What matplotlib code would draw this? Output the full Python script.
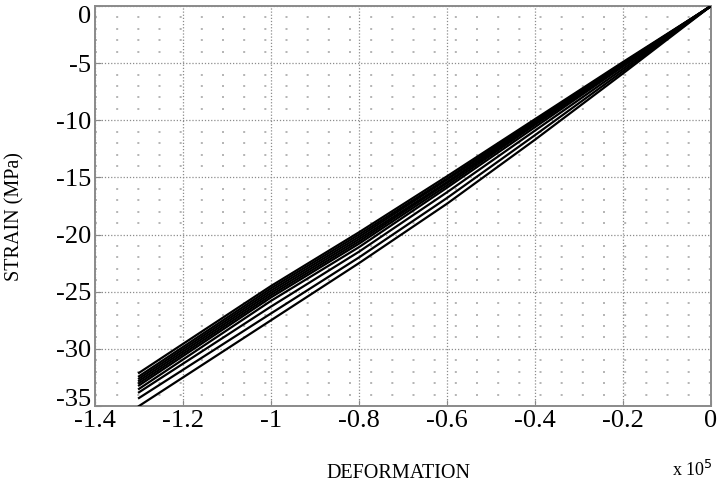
import numpy as np
import matplotlib
matplotlib.use('Agg')
from matplotlib import pyplot as plt
from matplotlib.ticker import MultipleLocator

plt.rcParams['font.family'] = ['Liberation Serif', 'DejaVu Serif']
plt.rcParams['axes.unicode_minus'] = False

# deformation values (raw units, shown as x 10^5)
deformation = [-130000, -100000, -80000, -60000, -40000, -20000, 0]

# strain (MPa) for each loading cycle, top of the bundle to bottom
strain_1 = [-32.1, -24.5, -19.8, -14.9, -9.9, -4.9, 0]
strain_2 = [-32.4, -24.7, -20.0, -15.1, -10.0, -5.0, 0]
strain_3 = [-32.6, -24.9, -20.2, -15.2, -10.1, -5.0, 0]
strain_4 = [-32.8, -25.1, -20.4, -15.4, -10.2, -5.1, 0]
strain_5 = [-33.0, -25.3, -20.6, -15.5, -10.3, -5.1, 0]
strain_6 = [-33.2, -25.5, -20.8, -15.7, -10.4, -5.2, 0]
strain_7 = [-33.5, -25.8, -21.1, -15.9, -10.6, -5.3, 0]
strain_8 = [-33.8, -26.3, -21.5, -16.3, -10.9, -5.5, 0]
strain_9 = [-34.3, -26.9, -22.0, -16.8, -11.3, -5.7, 0]
strain_10 = [-35.0, -27.5, -22.5, -17.3, -11.7, -5.9, 0]
cycles = [strain_1, strain_2, strain_3, strain_4, strain_5,
          strain_6, strain_7, strain_8, strain_9, strain_10]

x_ticks = [-1.4, -1.2, -1, -0.8, -0.6, -0.4, -0.2, 0]
x_tick_labels = ['-1.4', '-1.2', '-1', '-0.8', '-0.6', '-0.4', '-0.2', '0']
y_ticks = [0, -5, -10, -15, -20, -25, -30, -35]
y_tick_labels = ['0', '-5', '-10', '-15', '-20', '-25', '-30', '-35']

fig = plt.figure(figsize=(7.17, 4.87), dpi=100)
ax = fig.add_axes([95 / 717, 1 - 406 / 487, 616 / 717, 400 / 487])

x = np.array(deformation) / 1e5
for s in cycles:
    ax.plot(x, s, color='black', linewidth=1.6, zorder=3)

ax.set_xlim(-1.4, 0)
ax.set_ylim(-35, 0)
ax.set_xticks(x_ticks)
ax.set_xticklabels(x_tick_labels)
ax.set_yticks(y_ticks)
ax.set_yticklabels(y_tick_labels)
ax.yaxis.set_minor_locator(MultipleLocator(1))

# dotted major grid, sparse dot lattice for the minor one
ax.grid(True, which='major', color='#8c8c8c', linestyle=(0, (1, 1.5)), linewidth=0.9)
ax.grid(True, which='minor', axis='y', color='#a8a8a8', linestyle=(0, (1.2, 11.5)),
        linewidth=1.2)
ax.set_axisbelow(True)

for sp in ax.spines.values():
    sp.set_color('#8a8a8a')
    sp.set_linewidth(1.4)

ax.tick_params(which='major', direction='in', length=4, color='#8a8a8a',
               labelsize=19, pad=3)
ax.tick_params(which='minor', direction='in', length=0)

# edge labels pulled inward like the original
ax.get_yticklabels()[0].set_verticalalignment('top')
ax.get_yticklabels()[-1].set_verticalalignment('baseline')

fig.text(398 / 717, 1 - 473 / 487, 'DEFORMATION', ha='center', va='center', fontsize=14.5)
fig.text(15 / 717, 1 - 217 / 487, 'STRAIN (MPa)', ha='center', va='center',
         rotation=90, fontsize=14.5)
fig.text(713 / 717, 1 - 470 / 487, 'x 10$^5$', ha='right', va='center', fontsize=13)

fig.savefig('out.png', dpi=100)
